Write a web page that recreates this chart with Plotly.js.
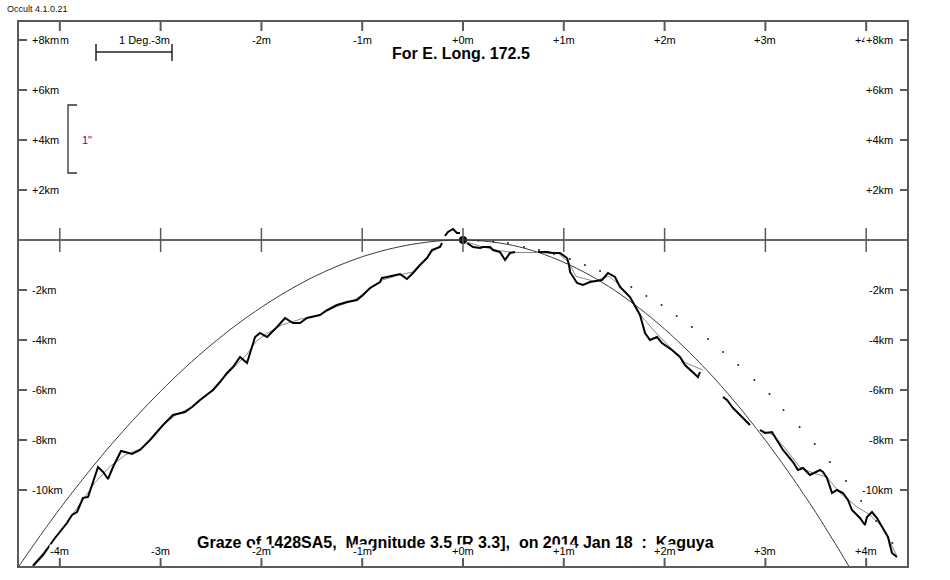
<!DOCTYPE html>
<html><head><meta charset="utf-8">
<script src="https://cdn.plot.ly/plotly-3.0.1.min.js"></script>
<style>html,body{margin:0;padding:0;background:#fff}#chart{width:950px;height:580px}</style>
</head><body><div id="chart"></div>
<script>
// ---- tick data ----
const xTicks = [-4, -3, -2, -1, 0, 1, 2, 3, 4];
const xTickLabels = ['-4m', '-3m', '-2m', '-1m', '+0m', '+1m', '+2m', '+3m', '+4m'];
const yTicks = [8, 6, 4, 2, -2, -4, -6, -8, -10];
const yTickLabels = ['+8km', '+6km', '+4km', '+2km', '-2km', '-4km', '-6km', '-8km', '-10km'];

// ---- mean limb curve (thin) ----
const limbX = [-4.45, -4.25, -4.0, -3.75, -3.5, -3.25, -3.0, -2.75, -2.5, -2.25, -2.0, -1.75, -1.5, -1.25, -1.0, -0.75, -0.5, -0.25, 0,
  0.25, 0.5, 0.75, 1.0, 1.25, 1.5, 1.75, 2.0, 2.25, 2.5, 2.75, 3.0, 3.25, 3.5, 3.75, 3.95];
const limbY = [-13.31, -12.14, -10.75, -9.45, -8.23, -7.10, -6.05, -5.08, -4.20, -3.40, -2.69, -2.06, -1.51, -1.05, -0.67, -0.38, -0.17, -0.04, 0,
  -0.06, -0.22, -0.50, -0.89, -1.39, -2.00, -2.73, -3.56, -4.51, -5.56, -6.73, -8.01, -9.40, -10.90, -12.52, -13.89];

// ---- observed limb profile (thick), null = gap ----
const profX = [-4.266, -4.167, -4.097, -4.048, -3.929, -3.879, -3.829, -3.770, -3.720, -3.671, -3.621, -3.571, -3.522, -3.472, -3.393, -3.353, -3.284, -3.204, -3.105, -2.976, -2.877, -2.758, -2.688, -2.609, -2.480, -2.411, -2.341, -2.282, -2.212, -2.143, -2.093, -2.063, -2.014, -1.944, -1.845, -1.766, -1.687, -1.617, -1.548, -1.419, -1.349, -1.250, -1.151, -1.052, -0.992, -0.923, -0.823, -0.804, -0.754, -0.704, -0.625, -0.556, -0.496, -0.427, -0.357, -0.308, -0.258, -0.228, -0.208, null,
  -0.179, -0.149, -0.099, -0.060, -0.030, null,
  0.040, 0.099, 0.169, 0.198, 0.268, 0.298, 0.367, 0.417, 0.466, 0.516, null,
  0.744, 0.833, 0.893, 0.962, 1.032, 1.052, 1.062, 1.131, 1.190, 1.260, 1.379, 1.438, 1.508, 1.558, 1.657, 1.756, 1.806, 1.855, 1.925, 1.974, 2.073, 2.153, 2.202, 2.272, 2.331, 2.351, null,
  2.579, 2.619, 2.679, 2.748, 2.847, null,
  2.946, 2.996, 3.065, 3.125, 3.175, 3.274, 3.323, 3.373, 3.442, 3.542, 3.571, 3.611, 3.661, 3.710, 3.770, 3.819, 3.859, 3.938, 3.988, 4.008, 4.058, 4.107, 4.167, 4.216, 4.256, 4.306];
const profY = [-13.04, -12.6, -12.2, -11.92, -11.32, -11.0, -10.88, -10.32, -10.28, -9.72, -9.08, -9.28, -9.56, -9.08, -8.44, -8.48, -8.56, -8.4, -8.0, -7.4, -7.0, -6.88, -6.68, -6.4, -6.0, -5.68, -5.32, -5.08, -4.68, -4.92, -4.32, -3.88, -3.72, -3.88, -3.48, -3.12, -3.32, -3.32, -3.12, -3.0, -2.8, -2.6, -2.48, -2.4, -2.2, -1.92, -1.68, -1.52, -1.48, -1.44, -1.36, -1.56, -1.32, -1.0, -0.72, -0.4, -0.32, -0.28, -0.12, null,
  0.16, 0.32, 0.44, 0.28, 0.28, null,
  -0.12, -0.28, -0.32, -0.28, -0.28, -0.4, -0.48, -0.8, -0.52, -0.48, null,
  -0.48, -0.48, -0.52, -0.52, -0.72, -1.0, -1.28, -1.72, -1.8, -1.68, -1.6, -1.32, -1.48, -1.88, -2.28, -3.0, -3.72, -4.0, -3.88, -4.12, -4.4, -4.68, -5.0, -5.28, -5.48, -5.28, null,
  -6.28, -6.4, -6.72, -7.0, -7.4, null,
  -7.6, -7.72, -7.68, -8.08, -8.4, -8.88, -9.2, -9.12, -9.4, -9.2, -9.28, -9.52, -10.12, -10.0, -10.12, -10.4, -10.8, -11.12, -11.4, -11.08, -10.88, -11.12, -11.52, -11.88, -12.52, -12.68];

// ---- smoothed profile (thin grey) ----
const smoothX = [-4.27, -4.1, -3.93, -3.77, -3.65, -3.5, -3.35, -3.2, -3.1, -2.98, -2.85, -2.7, -2.6, -2.45, -2.3, -2.15, -2.05, -1.95, -1.8, -1.6, -1.42, -1.25, -1.1, -0.95, -0.8, -0.65, -0.5, -0.4, -0.3, -0.22, null,
  0.05, 0.2, 0.35, 0.5, 0.75, 0.95, 1.05, 1.12, 1.3, 1.45, 1.55, 1.66, 1.76, 1.9, 2.07, 2.2, 2.38, null,
  2.58, 2.85, null,
  2.95, 3.08, 3.21, 3.34, 3.47, 3.61, 3.74, 3.91, 4.04, 4.17, 4.3];
const smoothY = [-13.0, -12.2, -11.3, -10.4, -9.7, -9.05, -8.6, -8.35, -8.0, -7.42, -7.0, -6.7, -6.4, -5.85, -5.2, -4.6, -4.05, -3.75, -3.4, -3.15, -3.0, -2.65, -2.45, -2.05, -1.6, -1.42, -1.28, -0.9, -0.45, -0.2, null,
  -0.1, -0.28, -0.42, -0.5, -0.5, -0.55, -0.9, -1.45, -1.65, -1.45, -1.8, -2.3, -3.0, -3.65, -4.35, -4.9, -5.2, null,
  -6.28, -7.4, null,
  -7.6, -7.8, -8.4, -9.08, -9.32, -9.48, -10.12, -10.68, -11.0, -11.52, -12.6];

// ---- dotted predicted limit ----
const dotsX = [0.15, 0.30, 0.446, 0.605, 0.754, 0.903, 1.06, 1.21, 1.36, 1.52, 1.67, 1.82, 1.97, 2.12, 2.27, 2.43, 2.58, 2.73, 2.89, 3.04, 3.18, 3.34, 3.49, 3.64, 3.80, 3.95, 4.10, 4.26];
const dotsY = [-0.02, -0.06, -0.12, -0.28, -0.40, -0.56, -0.76, -1.00, -1.24, -1.56, -1.88, -2.24, -2.60, -3.04, -3.48, -3.96, -4.48, -5.00, -5.60, -6.16, -6.80, -7.48, -8.16, -8.88, -9.64, -10.44, -11.24, -12.12];

// ---- texts ----
const versionText = 'Occult 4.1.0.21';
const topTitle = 'For E. Long. 172.5';
const bottomTitle = 'Graze of 1428SA5,\u00a0 Magnitude 3.5 [R 3.3],\u00a0 on 2014 Jan 18\u00a0 :\u00a0 Kaguya';
const degLabel = '1 Deg.';
const arcLabel = '1"';

const W = 950, H = 580, ML = 19, MR = 43, MT = 22, MB = 14;
const PW = W - ML - MR, PH = H - MT - MB;
const X0 = -4.405, X1 = 4.405, Y0 = -13.04, Y1 = 8.72;
const pxX = p => (p - ML) / PW;          // pixel -> paper x
const pxY = p => 1 - (p - MT) / PH;      // pixel -> paper y
const FONT = 'Liberation Sans, Arial, sans-serif';
const frameCol = '#5a5a5a';

const traces = [
  {x: limbX, y: limbY, mode: 'lines', line: {color: '#3a3a3a', width: 1, shape: 'spline', smoothing: 0.8}, hoverinfo: 'skip'},
  {x: smoothX, y: smoothY, mode: 'lines', line: {color: '#8a8a8a', width: 1}, connectgaps: false, hoverinfo: 'skip'},
  {x: profX, y: profY, mode: 'lines', line: {color: '#000', width: 2}, connectgaps: false, hoverinfo: 'skip'},
  {x: dotsX, y: dotsY, mode: 'markers', marker: {color: '#222', size: 2}, hoverinfo: 'skip'},
  {x: [0], y: [0], mode: 'markers', marker: {color: '#000', size: 8}, hoverinfo: 'skip'}
];

const shapes = [];
// zero line
shapes.push({type: 'line', xref: 'paper', yref: 'y', x0: 0, x1: 1, y0: 0, y1: 0, line: {color: '#333', width: 1.3}});
xTicks.forEach(v => {
  shapes.push({type: 'line', xref: 'x', yref: 'paper', x0: v, x1: v, y0: 1, y1: pxY(31), line: {color: frameCol, width: 2}});
  shapes.push({type: 'line', xref: 'x', yref: 'paper', x0: v, x1: v, y0: 0, y1: pxY(558), line: {color: frameCol, width: 2}});
  shapes.push({type: 'line', xref: 'x', yref: 'paper', x0: v, x1: v, y0: pxY(228), y1: pxY(252), line: {color: frameCol, width: 1.5}});
});
yTicks.forEach(v => {
  shapes.push({type: 'line', xref: 'paper', yref: 'y', x0: 0, x1: pxX(27), y0: v, y1: v, line: {color: frameCol, width: 2}});
  shapes.push({type: 'line', xref: 'paper', yref: 'y', x0: pxX(900), x1: 1, y0: v, y1: v, line: {color: frameCol, width: 2}});
});
// 1 degree scale bar
shapes.push({type: 'line', xref: 'paper', yref: 'paper', x0: pxX(96), x1: pxX(172), y0: pxY(52), y1: pxY(52), line: {color: frameCol, width: 2}});
shapes.push({type: 'line', xref: 'paper', yref: 'paper', x0: pxX(96), x1: pxX(96), y0: pxY(44), y1: pxY(61), line: {color: '#222', width: 1.5}});
shapes.push({type: 'line', xref: 'paper', yref: 'paper', x0: pxX(172), x1: pxX(172), y0: pxY(44), y1: pxY(61), line: {color: '#222', width: 1.5}});
// 1 arcsec bracket
shapes.push({type: 'path', xref: 'paper', yref: 'paper',
  path: `M ${pxX(77)} ${pxY(105)} L ${pxX(68)} ${pxY(105)} L ${pxX(68)} ${pxY(173)} L ${pxX(77)} ${pxY(173)}`,
  line: {color: '#333', width: 1.3}});

const ann = [];
const tf = {family: FONT, size: 11, color: '#000'};
ann.push({xref: 'paper', yref: 'paper', x: pxX(5), y: pxY(9), xanchor: 'left', yanchor: 'middle', text: versionText, showarrow: false, font: {family: FONT, size: 9, color: '#111'}});
ann.push({xref: 'paper', yref: 'paper', x: pxX(461), y: pxY(53), xanchor: 'center', yanchor: 'middle', text: '<b>' + topTitle + '</b>', showarrow: false, font: {family: FONT, size: 16, color: '#000'}});
ann.push({xref: 'paper', yref: 'paper', x: pxX(455), y: pxY(542), xanchor: 'center', yanchor: 'middle', text: '<b>' + bottomTitle + '</b>', showarrow: false, font: {family: FONT, size: 16, color: '#000'}});
xTicks.forEach((v, i) => {
  ann.push({xref: 'x', yref: 'paper', x: v, y: pxY(40), xanchor: 'center', yanchor: 'middle', text: xTickLabels[i], showarrow: false, font: tf});
  ann.push({xref: 'x', yref: 'paper', x: v, y: pxY(551), xanchor: 'center', yanchor: 'middle', text: xTickLabels[i], showarrow: false, font: tf, bgcolor: '#fff', borderpad: 0});
});
ann.push({xref: 'paper', yref: 'paper', x: pxX(117), y: pxY(40), xanchor: 'left', yanchor: 'middle', text: degLabel, showarrow: false, font: tf});
ann.push({xref: 'paper', yref: 'paper', x: pxX(80), y: pxY(140), xanchor: 'left', yanchor: 'middle', text: arcLabel, showarrow: false, font: {family: FONT, size: 11, color: '#800080'}});
yTicks.forEach((v, i) => {
  ann.push({xref: 'paper', yref: 'y', x: pxX(30), y: v, xanchor: 'left', yanchor: 'middle', text: yTickLabels[i], showarrow: false, font: tf, bgcolor: '#fff', borderpad: 1});
  ann.push({xref: 'paper', yref: 'y', x: pxX(895), y: v, xanchor: 'right', yanchor: 'middle', text: yTickLabels[i], showarrow: false, font: tf, bgcolor: '#fff', borderpad: 1});
});

const layout = {
  width: W, height: H,
  margin: {l: ML, r: MR, t: MT, b: MB, pad: 0},
  paper_bgcolor: '#fff', plot_bgcolor: '#fff',
  showlegend: false,
  xaxis: {range: [X0, X1], showgrid: false, zeroline: false, showticklabels: false, ticks: '', showline: true, mirror: true, linecolor: frameCol, linewidth: 2, fixedrange: true},
  yaxis: {range: [Y0, Y1], showgrid: false, zeroline: false, showticklabels: false, ticks: '', showline: true, mirror: true, linecolor: frameCol, linewidth: 2, fixedrange: true},
  shapes: shapes,
  annotations: ann,
  font: {family: FONT}
};
Plotly.newPlot('chart', traces, layout, {displayModeBar: false, staticPlot: true});
</script>
</body></html>
